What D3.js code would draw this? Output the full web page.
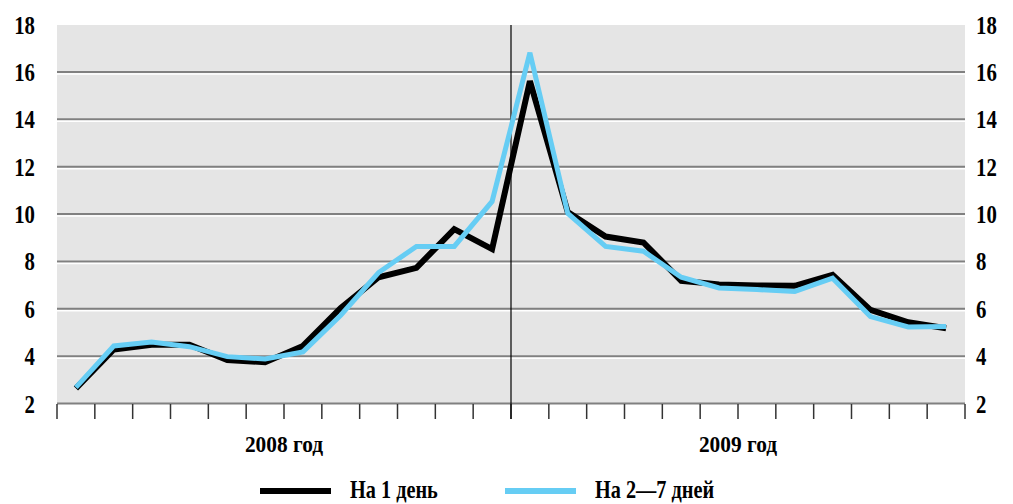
<!DOCTYPE html>
<html><head><meta charset="utf-8">
<script src="https://cdn.jsdelivr.net/npm/d3@7"></script>
<style>body{margin:0;background:#fff}svg{display:block}</style>
</head><body><svg id="c" width="1013" height="504"></svg>
<script>
const months = d3.range(24).map(i => i);
const oneDay = [2.66,4.3,4.5,4.5,3.86,3.76,4.45,6.05,7.35,7.75,9.38,8.54,15.63,10.1,9.07,8.82,7.2,7.05,7.0,6.99,7.45,5.97,5.45,5.2];
const twoSeven = [2.7,4.45,4.62,4.42,4.0,3.9,4.2,5.75,7.55,8.65,8.65,10.55,16.83,10.05,8.65,8.45,7.35,6.9,6.83,6.75,7.31,5.69,5.25,5.27];
const yTicks = [2,4,6,8,10,12,14,16,18];
const yearLabels = ["2008 год","2009 год"];
const seriesNames = ["На 1 день","На 2—7 дней"];
const colors = ["#000000","#66cdf4"];

const svg = d3.select("#c");
const L=57, R=965, T=25, B=404;
const font = "'Liberation Serif', 'Times New Roman', serif";
const x = d3.scaleBand().domain(months).range([L,R]).padding(0);
const y = d3.scaleLinear().domain([2,18]).range([B,T]);

svg.append("rect").attr("x",L).attr("y",T).attr("width",R-L).attr("height",B-T).attr("fill","#e5e5e5");

// gridlines
const g = svg.append("g");
yTicks.filter(v=>v<18).forEach(v=>{
  g.append("line").attr("x1",L).attr("x2",R).attr("y1",y(v)-0.5).attr("y2",y(v)-0.5).attr("stroke","#808080").attr("stroke-width",2);
  if(v>2) g.append("line").attr("x1",L).attr("x2",R).attr("y1",y(v)+1.5).attr("y2",y(v)+1.5).attr("stroke","#ffffff").attr("stroke-width",1.5);
});

// x ticks
const tickPos = months.map(m=>x(m)).concat([R]);
tickPos.forEach(p=>{
  svg.append("line").attr("x1",p).attr("x2",p).attr("y1",B).attr("y2",419).attr("stroke","#333").attr("stroke-width",1.5);
});
// vertical divider
svg.append("line").attr("x1",x(12)).attr("x2",x(12)).attr("y1",T).attr("y2",419).attr("stroke","#000").attr("stroke-width",1.2);

// y labels
const ylab = svg.append("g").attr("font-family",font).attr("font-weight","bold").attr("font-size",26).attr("fill","#000");
yTicks.forEach(v=>{
  ylab.append("text").attr("transform",`translate(35,${y(v)+8.5}) scale(0.8,1)`).attr("text-anchor","end").text(v);
  ylab.append("text").attr("transform",`translate(976,${y(v)+8.5}) scale(0.8,1)`).attr("text-anchor","start").text(v);
});

// year labels
yearLabels.forEach((t,i)=>{
  svg.append("text").attr("transform",`translate(${(x(i*12)+(i===0?x(12):R))/2},452) scale(0.93,1)`).attr("text-anchor","middle")
    .attr("font-family",font).attr("font-weight","bold").attr("font-size",23).text(t);
});

// lines
const line = d3.line().x((d,i)=>x(i)+x.bandwidth()/2).y(d=>y(d)).curve(d3.curveLinear);
svg.append("path").datum(oneDay).attr("d",line).attr("fill","none").attr("stroke",colors[0]).attr("stroke-width",6).attr("stroke-linejoin","miter");
svg.append("path").datum(twoSeven).attr("d",line).attr("fill","none").attr("stroke",colors[1]).attr("stroke-width",5).attr("stroke-linejoin","miter");

// legend
const leg = [{x1:260,x2:331,tx:350},{x1:505,x2:576,tx:595}];
leg.forEach((l,i)=>{
  svg.append("line").attr("x1",l.x1).attr("x2",l.x2).attr("y1",491).attr("y2",491).attr("stroke",colors[i]).attr("stroke-width",6);
  svg.append("text").attr("transform",`translate(${l.tx},498) scale(0.78,1)`).attr("font-family",font).attr("font-weight","bold").attr("font-size",26).text(seriesNames[i]);
});
</script></body></html>
